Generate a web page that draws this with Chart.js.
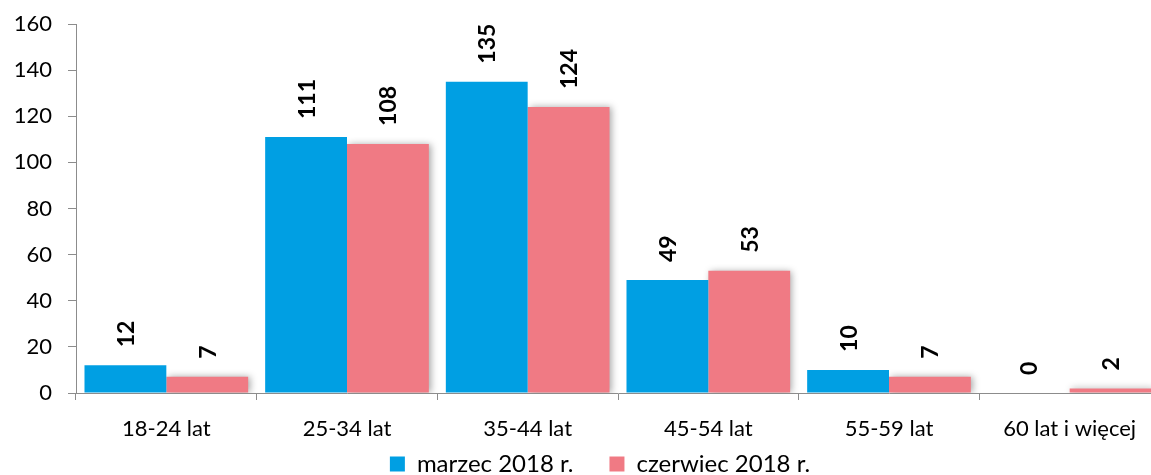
<!DOCTYPE html>
<html>
<head>
<meta charset="utf-8">
<script src="https://cdn.jsdelivr.net/npm/chart.js@4.4.0/dist/chart.umd.min.js"></script>
<style>
  html, body { margin: 0; padding: 0; background: #fff; overflow: hidden; }
  #wrap { width: 1200px; height: 475px; position: relative; }
</style>
</head>
<body>
<div id="wrap"><canvas id="c"></canvas></div>
<script>
const categories = ["18-24 lat", "25-34 lat", "35-44 lat", "45-54 lat", "55-59 lat", "60 lat i więcej"];
const seriesNames = ["marzec 2018 r.", "czerwiec 2018 r."];
const marzec = [12, 111, 135, 49, 10, 0];
const czerwiec = [7, 108, 124, 53, 7, 2];
const yTicks = [0, 20, 40, 60, 80, 100, 120, 140, 160];

const FONT = "Lato, 'Open Sans', sans-serif";

const shadowPlugin = {
  id: 'shadow',
  beforeDatasetDraw(chart, args) {
    if (args.index === 1) {
      const ctx = chart.ctx;
      ctx.save();
      ctx.shadowColor = 'rgba(0,0,0,0.35)';
      ctx.shadowBlur = 7;
      ctx.shadowOffsetX = 2;
      ctx.shadowOffsetY = 0;
    }
  },
  afterDatasetDraw(chart, args) {
    if (args.index === 1) chart.ctx.restore();
  }
};

const legendShift = {
  id: 'legendShift',
  afterLayout(chart) {
    const lg = chart.legend;
    if (lg) {
      const h = lg.bottom - lg.top;
      lg.left += 20;
      lg.right += 20;
      lg.top = 416;
      lg.bottom = 416 + h;
    }
  }
};

const labelPlugin = {
  id: 'vlabels',
  afterDatasetsDraw(chart) {
    const ctx = chart.ctx;
    ctx.save();
    ctx.font = "bold 23px " + FONT;
    ctx.fillStyle = '#000';
    ctx.textAlign = 'left';
    ctx.textBaseline = 'middle';
    chart.data.datasets.forEach((ds, di) => {
      const meta = chart.getDatasetMeta(di);
      meta.data.forEach((bar, i) => {
        ctx.save();
        ctx.translate(bar.x, bar.y - 18);
        ctx.rotate(-Math.PI / 2);
        ctx.fillText(String(ds.data[i]), 0, 1);
        ctx.restore();
      });
    });
    ctx.restore();
  }
};

new Chart(document.getElementById('c'), {
  type: 'bar',
  data: {
    labels: categories,
    datasets: [
      { label: seriesNames[0], data: marzec, backgroundColor: '#009FE3', borderWidth: 0 },
      { label: seriesNames[1], data: czerwiec, backgroundColor: '#F07A84', borderWidth: 0 }
    ]
  },
  options: {
    responsive: true,
    maintainAspectRatio: false,
    animation: false,
    devicePixelRatio: 1,
    categoryPercentage: 0.906,
    barPercentage: 1.0,
    layout: { padding: { top: 24, right: 40, left: 0, bottom: -38 } },
    plugins: {
      legend: {
        position: 'bottom',
        labels: {
          font: { family: FONT, size: 24 },
          color: '#000',
          boxWidth: 15,
          boxHeight: 15,
          padding: 36,
          useBorderRadius: false
        }
      },
      tooltip: { enabled: false }
    },
    scales: {
      x: {
        grid: { display: true, drawOnChartArea: false, drawTicks: true, tickLength: 7, color: '#8c8c8c', offset: true },
        border: { color: '#8c8c8c', width: 1 },
        ticks: { font: { family: FONT, size: 22 }, color: '#000', padding: 16, maxRotation: 0 },
        afterFit(scale) { scale.height = 50; scale.paddingLeft = 0; scale.paddingRight = 0; }
      },
      y: {
        min: 0, max: 160,
        afterBuildTicks(scale) { scale.ticks = yTicks.map(v => ({ value: v })); },
        grid: { display: true, drawOnChartArea: false, drawTicks: true, tickLength: 8, color: '#8c8c8c' },
        border: { color: '#8c8c8c', width: 1 },
        ticks: { font: { family: FONT, size: 22 }, color: '#000', padding: 16 },
        afterFit(scale) { scale.width = 76; scale.paddingTop = 0; scale.paddingBottom = 0; }
      }
    }
  },
  plugins: [shadowPlugin, labelPlugin, legendShift]
});
</script>
</body>
</html>
